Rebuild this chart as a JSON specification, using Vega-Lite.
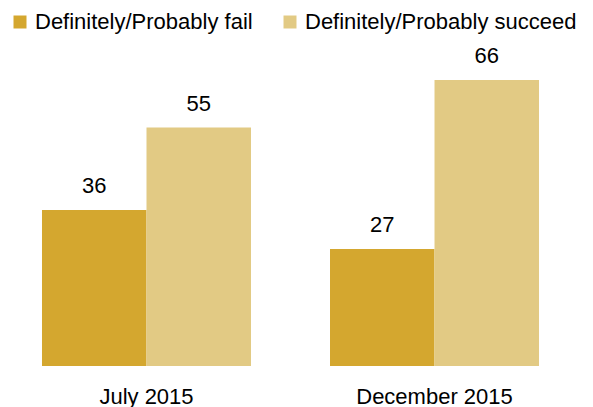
{
  "$schema": "https://vega.github.io/schema/vega-lite/v6.json",
  "width": 581,
  "height": 316,
  "autosize": {"type": "none"},
  "padding": {"left": 0, "top": 50, "right": 12, "bottom": 41},
  "background": "white",
  "config": {
    "view": {"stroke": null},
    "font": "Liberation Sans"
  },
  "data": {
    "values": [
      {"period": "July 2015", "response": "Definitely/Probably fail", "value": 36},
      {"period": "July 2015", "response": "Definitely/Probably succeed", "value": 55},
      {"period": "December 2015", "response": "Definitely/Probably fail", "value": 27},
      {"period": "December 2015", "response": "Definitely/Probably succeed", "value": 66}
    ]
  },
  "encoding": {
    "x": {
      "field": "period",
      "type": "nominal",
      "sort": ["July 2015", "December 2015"],
      "scale": {"paddingInner": 0.2743, "paddingOuter": 0.1458},
      "axis": {
        "title": null,
        "domain": false,
        "ticks": false,
        "labelAngle": 0,
        "labelFontSize": 22,
        "labelColor": "#000000",
        "labelPadding": 37,
        "labelBaseline": "alphabetic"
      }
    },
    "xOffset": {
      "field": "response",
      "type": "nominal",
      "sort": ["Definitely/Probably fail", "Definitely/Probably succeed"],
      "scale": {"paddingInner": 0, "paddingOuter": 0}
    },
    "y": {
      "field": "value",
      "type": "quantitative",
      "scale": {"domain": [0, 72.9], "nice": false},
      "axis": null
    }
  },
  "layer": [
    {
      "mark": {"type": "bar"},
      "encoding": {
        "color": {
          "field": "response",
          "type": "nominal",
          "sort": ["Definitely/Probably fail", "Definitely/Probably succeed"],
          "scale": {"range": ["#D4A72F", "#E2CA84"]},
          "legend": {
            "title": null,
            "orient": "none",
            "direction": "horizontal",
            "legendX": 9,
            "legendY": -39,
            "padding": 0,
            "symbolType": "square",
            "symbolSize": 169,
            "symbolStrokeWidth": 0,
            "labelFontSize": 22,
            "labelColor": "#000000",
            "labelOffset": 4,
            "columnPadding": 26,
            "labelLimit": 400
          }
        }
      }
    },
    {
      "mark": {"type": "text", "baseline": "alphabetic", "dy": -17, "fontSize": 22, "color": "#000000"},
      "encoding": {
        "text": {"field": "value", "type": "quantitative"}
      }
    }
  ]
}
